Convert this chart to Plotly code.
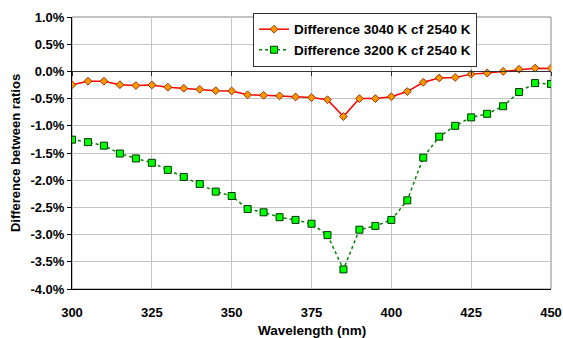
import plotly.graph_objects as go

wavelength = [300, 305, 310, 315, 320, 325, 330, 335, 340, 345, 350, 355, 360, 365, 370,
              375, 380, 385, 390, 395, 400, 405, 410, 415, 420, 425, 430, 435, 440, 445, 450]
diff_3040 = [-0.245, -0.18, -0.18, -0.245, -0.26, -0.25, -0.29, -0.31, -0.33, -0.355, -0.36,
             -0.43, -0.44, -0.45, -0.47, -0.48, -0.52, -0.83, -0.50, -0.50, -0.465, -0.37,
             -0.20, -0.12, -0.11, -0.05, -0.03, 0.0, 0.04, 0.06, 0.055]
diff_3200 = [-1.255, -1.30, -1.365, -1.51, -1.60, -1.68, -1.81, -1.94, -2.07, -2.21, -2.29,
             -2.53, -2.59, -2.68, -2.73, -2.80, -3.01, -3.64, -2.91, -2.84, -2.73, -2.37,
             -1.585, -1.20, -1.00, -0.845, -0.78, -0.64, -0.38, -0.215, -0.23]
name_3040 = "Difference 3040 K cf 2540 K"
name_3200 = "Difference 3200 K cf 2540 K"
x_title = "Wavelength (nm)"
y_title = "Difference between ratios"
y_ticks = [1.0, 0.5, 0.0, -0.5, -1.0, -1.5, -2.0, -2.5, -3.0, -3.5, -4.0]
y_tick_labels = ["1.0%", "0.5%", "0.0%", "-0.5%", "-1.0%", "-1.5%", "-2.0%", "-2.5%",
                 "-3.0%", "-3.5%", "-4.0%"]
x_ticks = [300, 325, 350, 375, 400, 425, 450]

FONT = "Arial, Liberation Sans, sans-serif"

fig = go.Figure()
fig.add_trace(go.Scatter(
    x=wavelength, y=diff_3040, name=name_3040, mode="lines+markers",
    line=dict(color="#ff0000", width=1.5),
    marker=dict(symbol="diamond", size=6, color="#ff9900",
                line=dict(color="#993300", width=1)),
))
fig.add_trace(go.Scatter(
    x=wavelength, y=diff_3200, name=name_3200, mode="lines+markers",
    line=dict(color="#008000", width=1.5, dash="dot"),
    marker=dict(symbol="square", size=7, color="#00ff00",
                line=dict(color="#003300", width=1)),
))
# invisible trace carrying the zero-crossing axis with tick marks
fig.add_trace(go.Scatter(
    x=wavelength, y=diff_3040, xaxis="x2", mode="lines",
    line=dict(color="rgba(0,0,0,0)"), showlegend=False, hoverinfo="skip",
))

fig.update_layout(
    width=563, height=338,
    margin=dict(l=72, r=12, t=17, b=49),
    paper_bgcolor="white", plot_bgcolor="white",
    font=dict(family=FONT, size=12, color="black", weight="bold"),
    showlegend=True,
    legend=dict(
        x=0.378, y=1.015, xanchor="left", yanchor="top",
        bgcolor="white", bordercolor="#333333", borderwidth=1,
        font=dict(family=FONT, size=13.5, color="black", weight="bold"),
        tracegroupgap=0, itemwidth=30,
    ),
    xaxis=dict(
        range=[300, 450], tickvals=x_ticks, showgrid=True,
        gridcolor="#c4c4c4", gridwidth=1, automargin=False,
        showline=True, linecolor="black", linewidth=1,
        ticks="outside", ticklen=11, tickcolor="rgba(0,0,0,0)",
        zeroline=False,
        tickfont=dict(family=FONT, size=13, weight="bold"),
    ),
    xaxis2=dict(
        range=[300, 450], tickvals=x_ticks, overlaying="x", anchor="free",
        position=0.8, side="bottom", showgrid=False, showticklabels=False,
        showline=True, linecolor="#333333", linewidth=1, automargin=False,
        ticks="outside", ticklen=4, tickcolor="#333333", zeroline=False,
    ),
    yaxis=dict(
        range=[-4, 1], tickvals=y_ticks, ticktext=y_tick_labels,
        showgrid=True, gridcolor="#c4c4c4", gridwidth=1, automargin=False,
        showline=True, linecolor="black", linewidth=1,
        ticks="outside", ticklen=4, tickcolor="black",
        zeroline=False,
        title=dict(text=y_title, standoff=6,
                   font=dict(family=FONT, size=13, weight="bold")),
        tickfont=dict(family=FONT, size=13, weight="bold"),
    ),
    annotations=[dict(text=x_title, xref="paper", yref="paper", x=0.5, y=-0.151,
                      xanchor="center", yanchor="middle", showarrow=False,
                      font=dict(family=FONT, size=13.5, color="black", weight="bold"))],
    shapes=[dict(type="rect", xref="x domain", yref="y domain",
                 x0=0, x1=1, y0=0, y1=1, line=dict(color="#888888", width=1),
                 layer="below")],
)

fig.write_html("out.html")
